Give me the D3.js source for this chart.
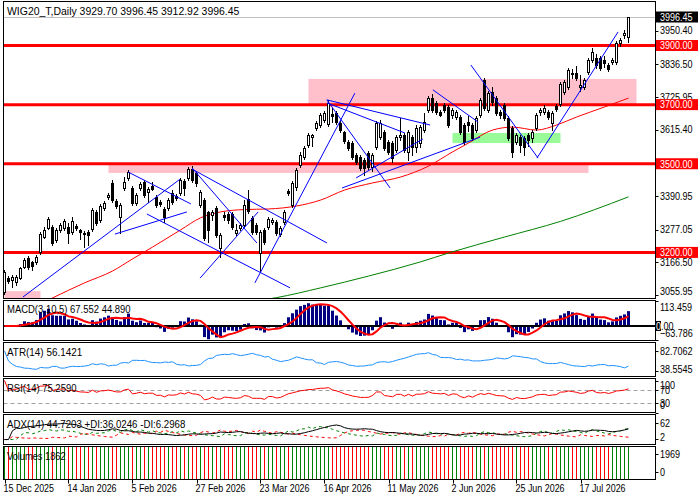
<!DOCTYPE html>
<html>
<head>
<meta charset="utf-8">
<script src="https://cdn.jsdelivr.net/npm/d3@7"></script>
<style>
body { margin: 0; background: #fff; }
svg text {
	font-family: "Liberation Sans", Arial, sans-serif;
	font-size: 11px;
}
</style>
</head>
<body>
<svg id="chart" width="700" height="500"></svg>
<script>
// daily bars, [open, high, low, close]
const candles = [
	[3066, 3141, 3058, 3134], [3114, 3121, 3096, 3103], [3107, 3122, 3083, 3117], [3100, 3124, 3090, 3117],
	[3114, 3152, 3110, 3147], [3151, 3180, 3147, 3174], [3181, 3188, 3145, 3151], [3167, 3172, 3140, 3155],
	[3168, 3192, 3162, 3185], [3201, 3268, 3196, 3262], [3252, 3285, 3248, 3276], [3283, 3320, 3278, 3313],
	[3286, 3292, 3225, 3232], [3242, 3282, 3235, 3276], [3276, 3300, 3270, 3293], [3283, 3313, 3276, 3306],
	[3286, 3300, 3232, 3266], [3269, 3320, 3262, 3306], [3289, 3296, 3276, 3283], [3276, 3280, 3245, 3269],
	[3262, 3272, 3218, 3266], [3269, 3276, 3225, 3259], [3279, 3350, 3272, 3344], [3337, 3345, 3293, 3300],
	[3310, 3365, 3303, 3357], [3350, 3375, 3345, 3367], [3387, 3400, 3380, 3394], [3435, 3445, 3370, 3377],
	[3374, 3380, 3350, 3357], [3320, 3367, 3266, 3360], [3418, 3455, 3410, 3438], [3452, 3480, 3445, 3472],
	[3418, 3425, 3360, 3367], [3367, 3400, 3360, 3394], [3418, 3438, 3412, 3431], [3438, 3445, 3387, 3394],
	[3404, 3421, 3370, 3414], [3425, 3438, 3411, 3414], [3387, 3394, 3353, 3360], [3370, 3377, 3357, 3364],
	[3347, 3353, 3303, 3320], [3350, 3384, 3345, 3377], [3401, 3411, 3364, 3370], [3391, 3398, 3377, 3384],
	[3401, 3452, 3394, 3445], [3442, 3448, 3394, 3418], [3452, 3490, 3445, 3482], [3482, 3492, 3438, 3445],
	[3469, 3475, 3425, 3435], [3360, 3411, 3353, 3404], [3377, 3384, 3242, 3249], [3337, 3340, 3235, 3276],
	[3327, 3345, 3310, 3337], [3350, 3357, 3252, 3259], [3215, 3266, 3184, 3259], [3327, 3337, 3310, 3320],
	[3330, 3337, 3300, 3310], [3330, 3337, 3279, 3286], [3266, 3296, 3259, 3276], [3283, 3300, 3276, 3293],
	[3293, 3377, 3286, 3360], [3381, 3411, 3333, 3340], [3316, 3323, 3262, 3269], [3293, 3300, 3262, 3269],
	[3198, 3276, 3134, 3269], [3276, 3283, 3228, 3235], [3286, 3320, 3279, 3313], [3303, 3316, 3296, 3310],
	[3303, 3310, 3259, 3266], [3262, 3290, 3255, 3283], [3303, 3343, 3296, 3337], [3408, 3415, 3394, 3401],
	[3360, 3442, 3355, 3435], [3420, 3487, 3410, 3480], [3496, 3540, 3490, 3530], [3523, 3560, 3515, 3553],
	[3563, 3605, 3557, 3597], [3590, 3600, 3560, 3597], [3621, 3645, 3614, 3638], [3631, 3672, 3624, 3665],
	[3648, 3680, 3640, 3672], [3634, 3716, 3628, 3705], [3668, 3690, 3640, 3662], [3672, 3680, 3634, 3641],
	[3638, 3645, 3607, 3614], [3607, 3612, 3570, 3577], [3574, 3580, 3546, 3553], [3570, 3577, 3516, 3523],
	[3530, 3536, 3500, 3506], [3523, 3530, 3479, 3486], [3513, 3520, 3462, 3486], [3536, 3543, 3482, 3489],
	[3489, 3536, 3476, 3530], [3557, 3645, 3550, 3638], [3590, 3648, 3584, 3638], [3607, 3614, 3546, 3553],
	[3574, 3580, 3533, 3540], [3570, 3577, 3506, 3519], [3547, 3597, 3540, 3590], [3590, 3655, 3580, 3597],
	[3597, 3604, 3540, 3547], [3540, 3614, 3512, 3607], [3590, 3597, 3530, 3557], [3557, 3630, 3540, 3621],
	[3570, 3631, 3555, 3624], [3614, 3672, 3607, 3641], [3682, 3730, 3675, 3722], [3722, 3735, 3675, 3682],
	[3705, 3712, 3668, 3675], [3675, 3682, 3660, 3665], [3699, 3705, 3675, 3682], [3692, 3699, 3624, 3631],
	[3665, 3690, 3655, 3682], [3658, 3682, 3650, 3675], [3658, 3665, 3600, 3607], [3631, 3638, 3567, 3574],
	[3641, 3660, 3610, 3631], [3631, 3638, 3580, 3587], [3614, 3662, 3607, 3655], [3665, 3722, 3658, 3716],
	[3783, 3790, 3682, 3689], [3682, 3746, 3675, 3739], [3743, 3760, 3699, 3709], [3722, 3729, 3665, 3672],
	[3675, 3682, 3655, 3665], [3699, 3706, 3648, 3655], [3655, 3662, 3580, 3587], [3621, 3628, 3523, 3540],
	[3574, 3604, 3567, 3597], [3590, 3597, 3540, 3563], [3587, 3594, 3530, 3557], [3597, 3604, 3560, 3580],
	[3587, 3614, 3575, 3607], [3621, 3672, 3614, 3665], [3675, 3690, 3665, 3682], [3675, 3700, 3668, 3689],
	[3675, 3682, 3650, 3658], [3638, 3679, 3614, 3672], [3695, 3702, 3678, 3685], [3702, 3777, 3695, 3770],
	[3743, 3784, 3736, 3777], [3760, 3824, 3753, 3817], [3807, 3820, 3790, 3804], [3807, 3830, 3783, 3790],
	[3760, 3800, 3745, 3766], [3760, 3790, 3753, 3783], [3810, 3858, 3803, 3851], [3851, 3892, 3845, 3878],
	[3858, 3870, 3825, 3834], [3858, 3865, 3817, 3824], [3851, 3865, 3827, 3841], [3834, 3840, 3813, 3820],
	[3844, 3858, 3837, 3851], [3844, 3915, 3837, 3908], [3908, 3925, 3900, 3919], [3936, 3953, 3926, 3943],
	[3929.70, 3996.45, 3912.92, 3996.45]
];

// moving averages read at a few bars (they carry history from before the window)
const redMaBars = [10, 12, 20, 27, 32, 37, 44, 49, 54, 60, 66, 73, 79, 85, 92, 99, 106, 112, 116, 122, 127, 133, 138, 143, 150, 156];
const redMaValues = [3033, 3046, 3097, 3137, 3178, 3218, 3276, 3317, 3337, 3345, 3347, 3357, 3377, 3411, 3435, 3455, 3492, 3540, 3570, 3614, 3624, 3614, 3631, 3658, 3692, 3722];
const greenMaBars = [64, 68, 79, 91, 104, 111, 125, 139, 156];
const greenMaValues = [3038, 3047, 3080, 3120, 3168, 3198, 3252, 3305, 3388];

// drawn objects: levels, zones [fromBar, toBar, low, high], trend lines [bar, price, bar, price]
const levels = [3200, 3500, 3700, 3900];
const pinkZones = [[0, 9, 3030, 3069], [26, 146, 3469, 3500], [76, 158, 3700, 3787]];
const greenZones = [[112, 139, 3570, 3604]];
const trendLines = [
	[4.6, 3049, 43.9, 3448], [27.6, 3262, 45.6, 3337], [30.9, 3472, 46.6, 3364],
	[35.6, 3330, 71.4, 3080], [46.9, 3482, 80.6, 3232], [46.9, 3486, 63.1, 3232],
	[48.9, 3113, 63.4, 3337], [62.6, 3097, 87.6, 3739], [80.6, 3716, 106.4, 3631],
	[80.6, 3706, 100.1, 3604], [80.6, 3716, 96.4, 3418], [84.4, 3418, 118.9, 3590],
	[87.9, 3452, 104.6, 3584], [107.1, 3750, 118.4, 3641], [116.6, 3834, 133.4, 3519],
	[133.1, 3519, 153.4, 3946]
];

const lastPrice = 3996.45;
const priceTicks = [3950.40, 3836.50, 3725.95, 3615.40, 3390.95, 3277.05, 3166.50, 3055.95];
const macdTicks = [113.459, 0, -63.786];
const atrTicks = [82.7062, 38.5545];
const rsiTicks = [100, 70, 30, 0];
const adxTicks = [62, 2];
const volTicks = [1969, 0];
const dateBars = [0, 16, 32, 48, 64, 80, 96, 112, 128, 144];
const dateLabels = ["15 Dec 2025", "14 Jan 2026", "5 Feb 2026", "27 Feb 2026", "23 Mar 2026",
	"16 Apr 2026", "11 May 2026", "2 Jun 2026", "25 Jun 2026", "17 Jul 2026"];

const header = "WIG20_T,Daily  3929.70 3996.45 3912.92 3996.45";
const macdTitle = "MACD(3,10,5) 67.552 44.890";
const atrTitle = "ATR(14) 56.1421";
const rsiTitle = "RSI(14) 75.2590";
const adxTitle = "ADX(14) 44.7203 +DI:36.0246 -DI:6.2968";
const volTitle = "Volumes 1862";

// ---- indicators, derived from the bars the way the terminal does it ----
const opens = candles.map(c => c[0]);
const highs = candles.map(c => c[1]);
const lows = candles.map(c => c[2]);
const closes = candles.map(c => c[3]);

// EMA warmed up with a running mean over the first n bars
function ema(src, n) {
	const k = 2 / (n + 1), out = [];
	src.forEach((v, i) => {
		if (i < n) out.push(d3.mean(src.slice(0, i + 1)));
		else out.push(v * k + out[i - 1] * (1 - k));
	});
	return out;
}
function sma(src, n) {
	return src.map((v, i) => d3.mean(src.slice(Math.max(0, i - n + 1), i + 1)));
}

const macdMain = d3.zip(ema(closes, 3), ema(closes, 10)).map(([f, s]) => f - s);
const macdSignal = sma(macdMain, 5);

const trueRange = candles.map((c, i) => i === 0 ? c[1] - c[2]
	: Math.max(c[1] - c[2], Math.abs(c[1] - closes[i - 1]), Math.abs(c[2] - closes[i - 1])));
const atr = sma(trueRange, 14);

const rsi = (() => {
	const out = [];
	let g = 0, l = 0;
	closes.forEach((c, i) => {
		const ch = i === 0 ? c - opens[0] : c - closes[i - 1];
		const up = Math.max(ch, 0), dn = Math.max(-ch, 0);
		if (i < 14) { g = (g * i + up) / (i + 1); l = (l * i + dn) / (i + 1); }
		else { g = (g * 13 + up) / 14; l = (l * 13 + dn) / 14; }
		out.push(l === 0 ? 100 : 100 - 100 / (1 + g / l));
	});
	return out;
})();

const plusSdi = [], minusSdi = [];
candles.forEach((c, i) => {
	if (i === 0) { plusSdi.push(0); minusSdi.push(0); return; }
	let pdm = Math.max(highs[i] - highs[i - 1], 0);
	let mdm = Math.max(lows[i - 1] - lows[i], 0);
	if (pdm === mdm) { pdm = 0; mdm = 0; }
	else if (pdm < mdm) pdm = 0;
	else mdm = 0;
	const tr = trueRange[i];
	plusSdi.push(tr ? 100 * pdm / tr : 0);
	minusSdi.push(tr ? 100 * mdm / tr : 0);
});
const plusDi = ema(plusSdi, 14);
const minusDi = ema(minusSdi, 14);
const adx = ema(plusDi.map((p, i) => (p + minusDi[i]) ? 100 * Math.abs(p - minusDi[i]) / (p + minusDi[i]) : 0), 14);

// ---- layout ----
const svg = d3.select("#chart");
const plotL = 3.5, plotR = 655.5;
const panels = {
	main: [1.5, 298.5], macd: [300.5, 340.5], atr: [342.5, 376.5],
	rsi: [378.5, 412.5], adx: [414.5, 444.5], vol: [446.5, 479.5]
};
const defs = svg.append("defs");
const layer = {};
Object.entries(panels).forEach(([name, [t, b]]) => {
	defs.append("clipPath").attr("id", "clip-" + name)
		.append("rect").attr("x", plotL).attr("y", t).attr("width", plotR - plotL).attr("height", b - t);
	layer[name] = svg.append("g").attr("clip-path", "url(#clip-" + name + ")");
});
const axisG = svg.append("g");

const x = d3.scaleLinear().domain([0, candles.length - 1]).range([4.5, 628.5]);
const y = d3.scaleLinear().domain([3055.95, 3996.45]).range([295, 17]);
const yMacd = d3.scaleLinear().domain([-63.786, 113.459]).range([340, 301]);
const yAtr = d3.scaleLinear().domain([38.5545, 82.7062]).range([371, 351]);
const yRsi = d3.scaleLinear().domain([0, 100]).range([412.5, 380.5]);
const yAdx = d3.scaleLinear().domain([2, 62]).range([439, 423]);
const yVol = d3.scaleLinear().domain([0, 1969]).range([472, 454]);
const crisp = v => Math.round(v) + 0.5;

// the terminal font is narrower than anything installed: squeeze the text a little
function narrow(sel, r) {
	sel.each(function () {
		const w = this.getComputedTextLength();
		d3.select(this).attr("textLength", w * r).attr("lengthAdjust", "spacingAndGlyphs");
	});
}

// ---- main panel ----
const g = layer.main;
const zone = (list, color) => g.selectAll(null).data(list).enter().append("rect")
	.attr("x", d => x(d[0])).attr("width", d => x(d[1]) - x(d[0]))
	.attr("y", d => y(d[3])).attr("height", d => y(d[2]) - y(d[3]))
	.attr("fill", color);
zone(pinkZones, "#ffc0cb");
zone(greenZones, "#98fb98");

g.append("line")
	.attr("x1", plotL).attr("x2", plotR)
	.attr("y1", crisp(y(lastPrice))).attr("y2", crisp(y(lastPrice)))
	.attr("stroke", "#c0c0c0");

g.selectAll(".level").data(levels).enter().append("line")
	.attr("class", "level")
	.attr("x1", plotL).attr("x2", plotR)
	.attr("y1", d => y(d)).attr("y2", d => y(d))
	.attr("stroke", "#ff0000").attr("stroke-width", 3);

const maLine = d3.line().x(d => x(d[0])).y(d => y(d[1])).curve(d3.curveMonotoneX);
g.append("path").attr("d", maLine(d3.zip(greenMaBars, greenMaValues)))
	.attr("fill", "none").attr("stroke", "#008000");
g.append("path").attr("d", maLine(d3.zip(redMaBars, redMaValues)))
	.attr("fill", "none").attr("stroke", "#ff0000");

const bar = g.selectAll(".bar").data(candles).enter().append("g").attr("class", "bar");
bar.append("line")
	.attr("x1", (d, i) => x(i)).attr("x2", (d, i) => x(i))
	.attr("y1", d => Math.round(y(d[1]))).attr("y2", d => Math.round(y(d[2])) + 1)
	.attr("stroke", "#000");
bar.append("rect")
	.attr("x", (d, i) => x(i) - 1).attr("width", 2)
	.attr("y", d => crisp(y(Math.max(d[0], d[3]))))
	.attr("height", d => Math.max(1, Math.round(y(Math.min(d[0], d[3]))) - Math.round(y(Math.max(d[0], d[3])))))
	.attr("fill", d => d[3] >= d[0] ? "#fff" : "#000")
	.attr("stroke", "#000");

g.selectAll(".trend").data(trendLines).enter().append("line")
	.attr("class", "trend")
	.attr("x1", d => x(d[0])).attr("y1", d => y(d[1]))
	.attr("x2", d => x(d[2])).attr("y2", d => y(d[3]))
	.attr("stroke", "#0000ff");

// ---- MACD ----
layer.macd.selectAll("rect").data(macdMain).enter().append("rect")
	.attr("x", (d, i) => x(i) - 1.5).attr("width", 3)
	.attr("y", d => yMacd(Math.max(d, 0)))
	.attr("height", d => Math.abs(yMacd(d) - yMacd(0)))
	.attr("fill", "#000080");
layer.macd.append("line")
	.attr("x1", plotL).attr("x2", plotR).attr("y1", yMacd(0)).attr("y2", yMacd(0))
	.attr("stroke", "#000").attr("stroke-width", 2);
layer.macd.append("path")
	.attr("d", d3.line().x((d, i) => x(i)).y(d => yMacd(d))(macdSignal))
	.attr("fill", "none").attr("stroke", "#ff0000").attr("stroke-width", 2);

// ---- ATR ----
layer.atr.append("path")
	.attr("d", d3.line().x((d, i) => x(i)).y(d => yAtr(d))(atr))
	.attr("fill", "none").attr("stroke", "#1e90ff");

// ---- RSI ----
layer.rsi.selectAll("line").data([70, 30]).enter().append("line")
	.attr("x1", plotL).attr("x2", plotR)
	.attr("y1", d => crisp(yRsi(d))).attr("y2", d => crisp(yRsi(d)))
	.attr("stroke", "#a0a0a0").attr("stroke-dasharray", "4,3");
layer.rsi.append("path")
	.attr("d", d3.line().x((d, i) => x(i)).y(d => yRsi(d))(rsi))
	.attr("fill", "none").attr("stroke", "#ff0000");

// ---- ADX ----
const adxLine = d3.line().x((d, i) => x(i)).y(d => yAdx(d));
layer.adx.append("path").attr("d", adxLine(plusDi))
	.attr("fill", "none").attr("stroke", "#008000").attr("stroke-dasharray", "3,3");
layer.adx.append("path").attr("d", adxLine(minusDi))
	.attr("fill", "none").attr("stroke", "#ff0000").attr("stroke-dasharray", "3,3");
layer.adx.append("path").attr("d", adxLine(adx))
	.attr("fill", "none").attr("stroke", "#000");

// ---- Volumes (the bars run above the scale, so they fill the window) ----
layer.vol.selectAll("line").data(candles).enter().append("line")
	.attr("x1", (d, i) => x(i)).attr("x2", (d, i) => x(i))
	.attr("y1", panels.vol[1]).attr("y2", panels.vol[0])
	.attr("stroke", d => d[3] >= d[0] ? "#008000" : "#ff0000");

// ---- frames ----
Object.values(panels).forEach(([t, b]) => {
	axisG.append("rect").attr("x", plotL).attr("y", t)
		.attr("width", plotR - plotL).attr("height", b - t)
		.attr("fill", "none").attr("stroke", "#000");
});

// ---- titles ----
const title = (text, yy, r) => axisG.append("text").attr("x", 7).attr("y", yy).attr("fill", "#000")
	.text(text).call(narrow, r);
title(header, 15, 0.95);
title(macdTitle, 313, 0.86);
title(atrTitle, 356, 0.9);
title(rsiTitle, 392, 0.86);
title(adxTitle, 428, 0.88);
title(volTitle, 460, 0.84);

// ---- right-hand scales ----
function scaleLabels(values, scale, [t, b], fmt) {
	values.forEach(v => {
		const yy = Math.max(t + 7, Math.min(b - 7, scale(v)));
		axisG.append("line").attr("x1", plotR).attr("x2", plotR + 3)
			.attr("y1", crisp(scale(v))).attr("y2", crisp(scale(v))).attr("stroke", "#000");
		axisG.append("text").attr("x", 660).attr("y", yy).attr("dy", "0.35em")
			.attr("fill", "#000").text(fmt(v)).call(narrow, 0.82);
	});
}
scaleLabels(priceTicks, y, panels.main, d3.format(".2f"));
scaleLabels(macdTicks.filter(v => v !== 0), yMacd, panels.macd, d3.format(".3f"));
scaleLabels(atrTicks, yAtr, panels.atr, d3.format(".4f"));
scaleLabels(rsiTicks, yRsi, panels.rsi, d3.format("d"));
scaleLabels(adxTicks, yAdx, panels.adx, d3.format("d"));
scaleLabels(volTicks, yVol, panels.vol, d3.format("d"));

// zero of MACD, highlighted
axisG.append("rect").attr("x", 656).attr("y", yMacd(0) - 5).attr("width", 5).attr("height", 10).attr("fill", "#000");
axisG.append("text").attr("x", 656).attr("y", yMacd(0)).attr("dy", "0.35em").attr("fill", "#000")
	.call(t => { t.append("tspan").attr("fill", "#fff").text("0"); t.append("tspan").text(".00"); })
	.call(narrow, 0.82);

// level tags and the last price tag
function tag(value, bg) {
	axisG.append("rect").attr("x", 656).attr("y", y(value) - 5.5).attr("width", 42).attr("height", 11).attr("fill", bg);
	axisG.append("text").attr("x", 660).attr("y", y(value)).attr("dy", "0.35em")
		.attr("fill", "#fff").text(d3.format(".2f")(value)).call(narrow, 0.82);
}
levels.forEach(v => tag(v, "#ff0000"));
tag(lastPrice, "#000");

// ---- time axis ----
dateBars.forEach((b, k) => {
	axisG.append("line").attr("x1", crisp(x(b))).attr("x2", crisp(x(b)))
		.attr("y1", panels.vol[1]).attr("y2", panels.vol[1] + 4).attr("stroke", "#000");
	axisG.append("text").attr("x", x(b) - 1).attr("y", 492).attr("fill", "#000")
		.text(dateLabels[k]).call(narrow, 0.81);
});
</script>
</body>
</html>
